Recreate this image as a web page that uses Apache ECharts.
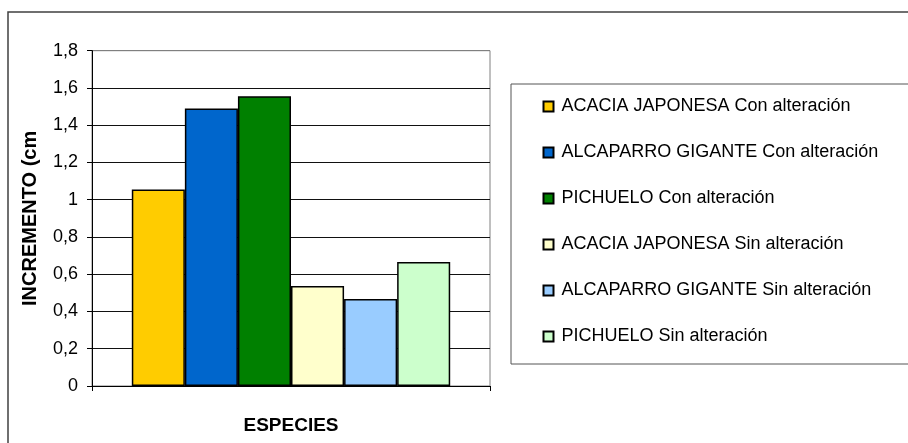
<!DOCTYPE html>
<html>
<head>
<meta charset="utf-8">
<script src="https://cdn.jsdelivr.net/npm/echarts@6/dist/echarts.min.js"></script>
<style>html,body{margin:0;padding:0;background:#fff}#c{width:908px;height:443px}</style>
</head>
<body>
<div id="c"></div>
<script>
const categories = [''];
const seriesNames = [
  'ACACIA JAPONESA Con alteración',
  'ALCAPARRO GIGANTE Con alteración',
  'PICHUELO Con alteración',
  'ACACIA JAPONESA Sin alteración',
  'ALCAPARRO GIGANTE Sin alteración',
  'PICHUELO Sin alteración'
];
const seriesValues = [1.055, 1.49, 1.555, 0.537, 0.467, 0.666];
const seriesColors = ['#FFCC00', '#0066CC', '#008000', '#FFFFCC', '#99CCFF', '#CCFFCC'];
const yTicks = { min: 0, max: 1.8, interval: 0.2 };
const xTitle = 'ESPECIES';
const yTitle = 'INCREMENTO (cm';

const FONT = '"Liberation Sans", Arial, sans-serif';
const chart = echarts.init(document.getElementById('c'), null, { renderer: 'canvas' });

const series = seriesNames.map((name, i) => ({
  name,
  type: 'bar',
  data: [seriesValues[i]],
  barGap: '0%',
  barCategoryGap: '20%',
  itemStyle: { color: seriesColors[i], borderColor: '#000', borderWidth: 1.5 },
  emphasis: { disabled: true },
  animation: false
}));

chart.setOption({
  animation: false,
  textStyle: { fontFamily: FONT },
  graphic: [
    { type: 'rect', shape: { x: 8, y: 12, width: 1000, height: 1000 }, style: { fill: 'none', stroke: '#404040', lineWidth: 1.5 }, silent: true, z: -10 },
    { type: 'rect', shape: { x: 511, y: 84, width: 500, height: 280 }, style: { fill: 'none', stroke: '#555', lineWidth: 1 }, silent: true, z: -10 }
  ],
  grid: { left: 92, top: 50.7, right: 418, bottom: 57, outerBoundsMode: 'none', containLabel: false, show: true, borderColor: '#808080', borderWidth: 1, backgroundColor: 'transparent' },
  legend: {
    orient: 'vertical',
    left: 537.5,
    top: 91.5,
    itemWidth: 10,
    itemHeight: 10,
    itemGap: 26,
    icon: 'rect',
    textStyle: { fontSize: 18, fontFamily: FONT, color: '#000', lineHeight: 20, padding: [0, 0, 0, 3] },
    data: seriesNames
  },
  xAxis: {
    type: 'category',
    data: categories,
    name: xTitle,
    nameLocation: 'middle',
    nameGap: 30,
    nameTextStyle: { fontSize: 19, fontWeight: 'bold', color: '#000', fontFamily: FONT },
    axisLine: { lineStyle: { color: '#000', width: 1 } },
    axisTick: { show: true, length: 5, lineStyle: { color: '#000' } },
    axisLabel: { show: false }
  },
  yAxis: {
    type: 'value',
    min: yTicks.min,
    max: yTicks.max,
    interval: yTicks.interval,
    name: yTitle,
    nameLocation: 'middle',
    nameGap: 52,
    nameTextStyle: { fontSize: 20, fontWeight: 'bold', color: '#000', fontFamily: FONT },
    axisLine: { show: true, lineStyle: { color: '#000', width: 1 } },
    axisTick: { show: true, length: 5, lineStyle: { color: '#000' } },
    axisLabel: {
      fontSize: 18, color: '#000', margin: 14, fontFamily: FONT,
      formatter: v => String(Math.round(v * 10) / 10).replace('.', ',')
    },
    splitLine: { show: true, lineStyle: { color: ['#000', '#111', '#111', '#111', '#111', '#111', '#111', '#111', '#111', '#808080'], width: 1 } }
  },
  series
});
</script>
</body>
</html>
